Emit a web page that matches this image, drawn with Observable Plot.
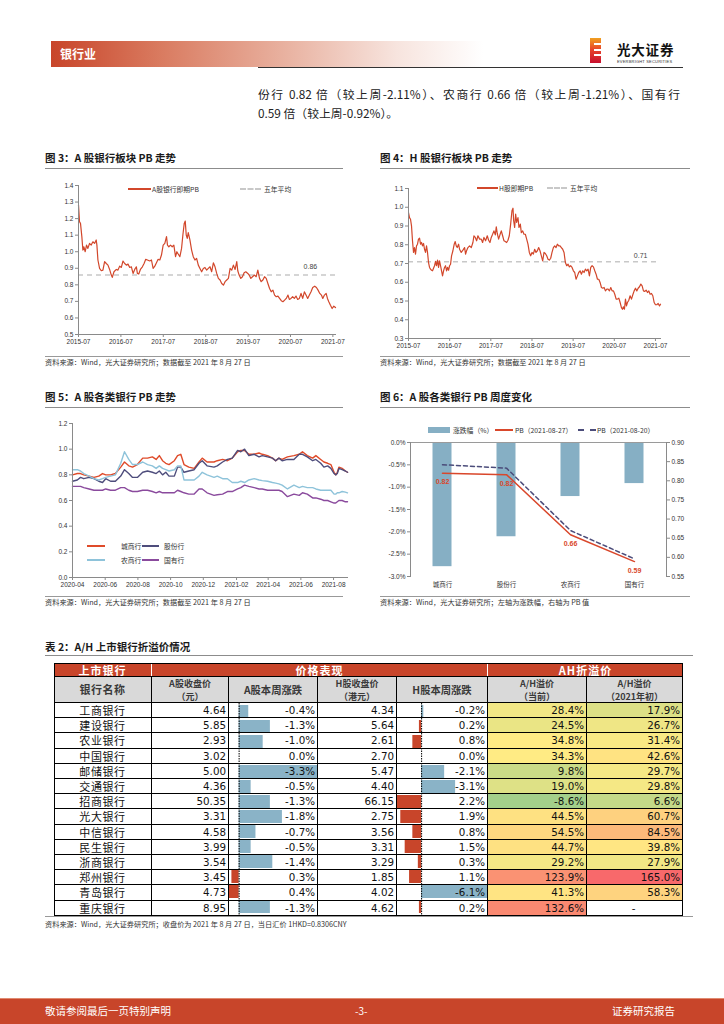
<!DOCTYPE html>
<html><head><meta charset="utf-8">
<script src="https://cdn.jsdelivr.net/npm/d3@7"></script>
<script src="https://cdn.jsdelivr.net/npm/@observablehq/plot@0.6"></script>
<style>
body{margin:0;background:#fff;}
#page{position:relative;width:724px;height:1024px;overflow:hidden;font-family:"Noto Sans CJK SC","Noto Sans",sans-serif;color:#222;background:#fff;}
.a{position:absolute;white-space:nowrap;}
.title{font-size:10.5px;font-weight:bold;color:#1a1a1a;line-height:12px;}
.src{font-size:7.2px;color:#333;line-height:9px;}
.hr{position:absolute;height:0;border-top:1.5px solid #8c8c8c;}
.hr2{position:absolute;height:0;border-top:1px solid #999;}
.leg{position:absolute;font-size:6.8px;color:#333;line-height:8px;white-space:nowrap;}
.c{position:absolute;box-sizing:border-box;border-right:1px solid #000;border-bottom:1px solid #000;display:flex;align-items:center;overflow:hidden;white-space:nowrap;}
.num{justify-content:flex-end;padding-right:2px;font-family:"DejaVu Sans",sans-serif;font-size:10.3px;color:#111;}
.nm{justify-content:center;font-size:11px;letter-spacing:0.6px;color:#111;}
.h1{background:#c8452a;color:#fff;font-weight:bold;font-size:11px;justify-content:center;border-right:1px solid #fff;letter-spacing:1px;}
.h2{background:#d9d9d9;color:#3a3a3a;font-weight:bold;font-size:9px;justify-content:center;overflow:visible;}
.h2 span{display:block;text-align:center;line-height:13px;}
</style></head>
<body><div id="page"></div>
<script>
// ---------------- data ----------------
const paraLine1 = "份行 0.82 倍（较上周-2.11%）、农商行 0.66 倍（较上周-1.21%）、国有行";
const paraLine2 = "0.59 倍（较上周-0.92%）。";

const yearTickLabels = ["2015-07","2016-07","2017-07","2018-07","2019-07","2020-07","2021-07"];
// Fig 3: A-share bank PB, [decimal year, PB]
const aSharePB = [[2015.500,1.282],[2015.524,1.181],[2015.547,1.171],[2015.579,1.091],[2015.603,1.010],[2015.626,1.030],[2015.658,1.000],[2015.689,1.040],[2015.721,1.020],[2015.760,1.050],[2015.800,1.040],[2015.839,1.060],[2015.879,1.050],[2015.918,1.071],[2015.934,1.040],[2015.958,0.950],[2015.997,0.899],[2016.037,0.885],[2016.076,0.889],[2016.116,0.940],[2016.155,0.929],[2016.195,0.919],[2016.234,0.893],[2016.273,0.859],[2016.297,0.845],[2016.337,0.879],[2016.392,0.893],[2016.431,0.889],[2016.471,0.913],[2016.510,0.905],[2016.550,0.944],[2016.589,0.929],[2016.629,0.919],[2016.668,0.925],[2016.708,0.905],[2016.747,0.909],[2016.787,0.869],[2016.826,0.893],[2016.865,0.909],[2016.889,0.869],[2016.921,0.865],[2016.960,0.893],[2017.007,0.909],[2017.047,0.929],[2017.086,0.954],[2017.126,0.950],[2017.181,0.944],[2017.221,0.950],[2017.260,0.899],[2017.300,0.913],[2017.339,0.933],[2017.378,0.954],[2017.418,0.950],[2017.457,0.980],[2017.497,1.040],[2017.536,1.050],[2017.576,1.091],[2017.599,1.040],[2017.631,1.030],[2017.670,1.040],[2017.710,1.030],[2017.749,1.040],[2017.789,0.970],[2017.820,1.000],[2017.852,0.986],[2017.891,0.970],[2017.931,1.020],[2017.962,1.101],[2017.994,1.171],[2018.018,1.185],[2018.041,1.101],[2018.065,1.081],[2018.089,1.115],[2018.128,1.071],[2018.168,1.010],[2018.207,0.970],[2018.247,0.950],[2018.286,0.960],[2018.326,0.919],[2018.365,0.899],[2018.405,0.879],[2018.444,0.899],[2018.483,0.905],[2018.523,0.889],[2018.562,0.899],[2018.602,0.909],[2018.641,0.879],[2018.681,0.933],[2018.720,0.909],[2018.760,0.869],[2018.799,0.839],[2018.839,0.829],[2018.878,0.808],[2018.918,0.798],[2018.957,0.819],[2018.997,0.829],[2019.036,0.839],[2019.076,0.899],[2019.115,0.889],[2019.154,0.919],[2019.194,0.893],[2019.233,0.940],[2019.257,0.885],[2019.289,0.859],[2019.328,0.839],[2019.367,0.849],[2019.407,0.873],[2019.446,0.879],[2019.494,0.869],[2019.525,0.859],[2019.565,0.839],[2019.604,0.849],[2019.652,0.859],[2019.691,0.849],[2019.730,0.889],[2019.770,0.839],[2019.809,0.819],[2019.849,0.829],[2019.888,0.849],[2019.928,0.839],[2019.967,0.808],[2020.007,0.778],[2020.046,0.758],[2020.086,0.768],[2020.125,0.738],[2020.165,0.728],[2020.204,0.732],[2020.243,0.718],[2020.283,0.704],[2020.322,0.698],[2020.362,0.708],[2020.401,0.718],[2020.441,0.738],[2020.473,0.712],[2020.512,0.718],[2020.551,0.728],[2020.591,0.718],[2020.630,0.732],[2020.670,0.712],[2020.709,0.718],[2020.749,0.748],[2020.788,0.718],[2020.828,0.758],[2020.867,0.738],[2020.906,0.718],[2020.946,0.738],[2020.985,0.758],[2021.025,0.784],[2021.072,0.792],[2021.112,0.784],[2021.151,0.768],[2021.191,0.748],[2021.230,0.738],[2021.262,0.718],[2021.301,0.738],[2021.341,0.748],[2021.372,0.718],[2021.404,0.698],[2021.443,0.677],[2021.483,0.657],[2021.522,0.671],[2021.562,0.663]];
const aAvg = 0.86;
const aYTicks = [0.5,0.6,0.7,0.8,0.9,1.0,1.1,1.2,1.3,1.4];

// Fig 4: H-share bank PB
const hSharePB = [[2015.500,0.972],[2015.524,0.945],[2015.549,0.936],[2015.573,0.901],[2015.597,0.821],[2015.622,0.759],[2015.646,0.785],[2015.670,0.750],[2015.695,0.794],[2015.719,0.803],[2015.743,0.830],[2015.768,0.835],[2015.792,0.803],[2015.816,0.812],[2015.841,0.794],[2015.865,0.807],[2015.889,0.776],[2015.914,0.759],[2015.938,0.794],[2015.962,0.759],[2015.987,0.705],[2016.011,0.679],[2016.035,0.670],[2016.060,0.664],[2016.084,0.661],[2016.108,0.675],[2016.133,0.688],[2016.157,0.711],[2016.181,0.688],[2016.206,0.718],[2016.230,0.679],[2016.254,0.714],[2016.279,0.688],[2016.303,0.661],[2016.327,0.634],[2016.352,0.661],[2016.376,0.679],[2016.400,0.688],[2016.425,0.661],[2016.449,0.679],[2016.473,0.664],[2016.498,0.688],[2016.522,0.696],[2016.546,0.741],[2016.579,0.768],[2016.611,0.803],[2016.635,0.817],[2016.660,0.794],[2016.684,0.785],[2016.717,0.803],[2016.741,0.776],[2016.781,0.759],[2016.822,0.771],[2016.863,0.785],[2016.887,0.750],[2016.911,0.768],[2016.944,0.785],[2016.984,0.794],[2017.025,0.785],[2017.065,0.812],[2017.090,0.848],[2017.122,0.839],[2017.155,0.821],[2017.187,0.848],[2017.228,0.830],[2017.268,0.830],[2017.300,0.812],[2017.333,0.839],[2017.373,0.821],[2017.414,0.848],[2017.446,0.824],[2017.479,0.812],[2017.511,0.839],[2017.544,0.856],[2017.576,0.874],[2017.609,0.853],[2017.633,0.896],[2017.657,0.860],[2017.690,0.830],[2017.722,0.853],[2017.755,0.874],[2017.787,0.848],[2017.820,0.821],[2017.852,0.817],[2017.884,0.812],[2017.917,0.824],[2017.949,0.848],[2017.982,0.910],[2018.014,0.981],[2018.039,0.995],[2018.055,0.928],[2018.079,0.892],[2018.103,0.963],[2018.128,0.919],[2018.160,0.945],[2018.184,0.892],[2018.217,0.910],[2018.241,0.865],[2018.274,0.874],[2018.306,0.856],[2018.339,0.856],[2018.371,0.830],[2018.403,0.803],[2018.436,0.759],[2018.468,0.741],[2018.501,0.759],[2018.533,0.750],[2018.566,0.776],[2018.598,0.759],[2018.631,0.768],[2018.663,0.785],[2018.695,0.768],[2018.728,0.741],[2018.760,0.714],[2018.793,0.759],[2018.825,0.753],[2018.858,0.741],[2018.890,0.723],[2018.922,0.718],[2018.955,0.728],[2018.987,0.759],[2019.020,0.785],[2019.052,0.794],[2019.085,0.785],[2019.117,0.803],[2019.150,0.794],[2019.182,0.794],[2019.214,0.785],[2019.247,0.776],[2019.279,0.759],[2019.312,0.705],[2019.344,0.688],[2019.377,0.696],[2019.409,0.682],[2019.442,0.688],[2019.474,0.679],[2019.506,0.661],[2019.539,0.652],[2019.571,0.616],[2019.604,0.634],[2019.636,0.652],[2019.669,0.661],[2019.701,0.643],[2019.734,0.661],[2019.766,0.652],[2019.798,0.670],[2019.831,0.661],[2019.863,0.670],[2019.896,0.634],[2019.928,0.679],[2019.961,0.688],[2019.993,0.682],[2020.026,0.661],[2020.058,0.643],[2020.091,0.616],[2020.123,0.616],[2020.155,0.599],[2020.188,0.572],[2020.220,0.568],[2020.253,0.572],[2020.285,0.554],[2020.318,0.563],[2020.350,0.563],[2020.382,0.554],[2020.415,0.572],[2020.447,0.554],[2020.480,0.554],[2020.512,0.536],[2020.545,0.510],[2020.577,0.510],[2020.610,0.515],[2020.642,0.492],[2020.674,0.465],[2020.699,0.456],[2020.723,0.469],[2020.747,0.456],[2020.772,0.510],[2020.796,0.474],[2020.820,0.492],[2020.853,0.504],[2020.885,0.528],[2020.918,0.510],[2020.950,0.533],[2020.983,0.554],[2021.015,0.568],[2021.047,0.554],[2021.080,0.568],[2021.112,0.576],[2021.145,0.590],[2021.177,0.581],[2021.209,0.554],[2021.242,0.551],[2021.274,0.558],[2021.307,0.545],[2021.339,0.554],[2021.371,0.536],[2021.404,0.540],[2021.436,0.528],[2021.469,0.492],[2021.501,0.480],[2021.534,0.480],[2021.566,0.487],[2021.599,0.474],[2021.623,0.483]];
const hAvg = 0.71;
const hYTicks = [0.3,0.4,0.5,0.6,0.7,0.8,0.9,1.0,1.1];

// Fig 5: PB by bank type
const f5Dates = ["2020-04-01","2020-04-10","2020-04-16","2020-04-22","2020-05-02","2020-05-11","2020-05-20","2020-05-27","2020-06-02","2020-06-11","2020-06-20","2020-06-30","2020-07-07","2020-07-15","2020-07-22","2020-07-31","2020-08-10","2020-08-19","2020-08-28","2020-09-04","2020-09-10","2020-09-16","2020-09-22","2020-09-28","2020-10-08","2020-10-14","2020-10-20","2020-10-26","2020-11-04","2020-11-14","2020-11-23","2020-11-29","2020-12-08","2020-12-21","2020-12-27","2021-01-06","2021-01-15","2021-01-24","2021-02-03","2021-02-09","2021-02-16","2021-02-24","2021-03-06","2021-03-15","2021-03-21","2021-03-31","2021-04-09","2021-04-15","2021-04-21","2021-04-27","2021-05-07","2021-05-19","2021-05-29","2021-06-04","2021-06-13","2021-06-23","2021-06-29","2021-07-08","2021-07-14","2021-07-21","2021-07-27","2021-08-02","2021-08-05","2021-08-08","2021-08-11","2021-08-17","2021-08-23","2021-08-27"];
const cityPB = [0.80,0.81,0.81,0.80,0.79,0.78,0.79,0.81,0.80,0.80,0.81,0.86,0.90,0.87,0.86,0.88,0.93,0.93,0.94,0.92,0.95,0.91,0.89,0.88,0.91,0.95,0.96,0.88,0.86,0.85,0.90,0.93,0.90,0.90,0.91,0.92,0.91,0.93,0.98,0.99,0.99,0.96,0.96,0.97,0.96,0.95,0.93,0.91,0.93,0.92,0.94,0.95,0.96,0.98,0.95,0.93,0.95,0.92,0.90,0.89,0.88,0.82,0.80,0.82,0.86,0.85,0.83,0.82];
const jointPB = [0.75,0.76,0.78,0.77,0.78,0.77,0.75,0.74,0.77,0.75,0.75,0.79,0.84,0.81,0.78,0.78,0.82,0.83,0.82,0.81,0.83,0.80,0.82,0.79,0.79,0.86,0.86,0.82,0.83,0.84,0.89,0.91,0.87,0.86,0.87,0.90,0.92,0.93,0.99,0.98,1.00,0.95,0.96,0.94,0.95,0.94,0.93,0.91,0.93,0.91,0.92,0.92,0.96,0.96,0.94,0.91,0.92,0.89,0.86,0.87,0.85,0.81,0.80,0.81,0.85,0.84,0.83,0.82];
const ruralPB = [0.84,0.84,0.83,0.81,0.79,0.77,0.76,0.77,0.78,0.79,0.80,0.89,0.98,0.92,0.88,0.88,0.90,0.88,0.87,0.85,0.87,0.85,0.84,0.83,0.84,0.87,0.87,0.76,0.76,0.76,0.79,0.82,0.80,0.78,0.79,0.77,0.77,0.74,0.74,0.75,0.74,0.76,0.77,0.76,0.755,0.75,0.74,0.735,0.73,0.72,0.69,0.72,0.70,0.71,0.70,0.70,0.69,0.68,0.68,0.68,0.68,0.65,0.65,0.66,0.66,0.67,0.665,0.66];
const statePB = [0.71,0.71,0.71,0.70,0.69,0.68,0.68,0.68,0.69,0.68,0.68,0.70,0.70,0.68,0.67,0.67,0.68,0.68,0.67,0.66,0.67,0.66,0.66,0.66,0.66,0.68,0.67,0.66,0.65,0.65,0.69,0.69,0.66,0.64,0.645,0.65,0.67,0.67,0.69,0.70,0.72,0.71,0.70,0.69,0.69,0.68,0.68,0.68,0.68,0.67,0.63,0.65,0.64,0.66,0.65,0.62,0.62,0.61,0.60,0.60,0.59,0.58,0.58,0.59,0.60,0.60,0.59,0.59];
const f5Names = ["城商行","股份行","农商行","国有行"];
const f5Colors = ["#df4b2a","#4e4d7c","#8ec3da","#8a4a9d"];
const f5XTicks = ["2020-04","2020-06","2020-08","2020-10","2020-12","2021-02","2021-04","2021-06","2021-08"];
const f5YTicks = [0,0.2,0.4,0.6,0.8,1.0,1.2];

// Fig 6: weekly change
const f6Cats = ["城商行","股份行","农商行","国有行"];
const f6Chg = [-2.78,-2.11,-1.21,-0.92];
const f6PB27 = [0.820,0.816,0.659,0.589];
const f6PB20 = [0.842,0.833,0.670,0.596];
const f6LeftTicks = [0,-0.5,-1.0,-1.5,-2.0,-2.5,-3.0];
const f6RightTicks = [0.90,0.85,0.80,0.75,0.70,0.65,0.60,0.55];

// Table 2
const banks = ["工商银行","建设银行","农业银行","中国银行","邮储银行","交通银行","招商银行","光大银行","中信银行","民生银行","浙商银行","郑州银行","青岛银行","重庆银行"];
const aClose = [4.64,5.85,2.93,3.02,5.00,4.36,50.35,3.31,4.58,3.99,3.54,3.45,4.73,8.95];
const aChg = [-0.4,-1.3,-1.0,0.0,-3.3,-0.5,-1.3,-1.8,-0.7,-0.5,-1.4,0.3,0.4,-1.3];
const hClose = [4.34,5.64,2.61,2.70,5.47,4.40,66.15,2.75,3.56,3.31,3.29,1.85,4.02,4.62];
const hChg = [-0.2,0.2,0.8,0.0,-2.1,-3.1,2.2,1.9,0.8,1.5,0.3,1.1,-6.1,0.2];
const ahNow = [28.4,24.5,34.8,34.3,9.8,19.0,-8.6,44.5,54.5,44.7,29.2,123.9,41.3,132.6];
const ahStart = [17.9,26.7,31.4,42.6,29.7,29.8,6.6,60.7,84.5,39.8,27.9,165.0,58.3,null];

// ---------------- helpers ----------------
const page = document.getElementById("page");
function div(cls, left, top, html, extra) {
  const d = document.createElement("div");
  d.className = cls; d.style.left = left + "px"; d.style.top = top + "px";
  if (html != null) d.innerHTML = html;
  if (extra) Object.assign(d.style, extra);
  page.appendChild(d); return d;
}
function place(el, left, top) {
  el.style.position = "absolute"; el.style.left = left + "px"; el.style.top = top + "px";
  page.appendChild(el);
}
function hr(left, top, width, cls) { div(cls || "hr", left, top, "", {width: width + "px"}); }
function legLine(x, y, w, color, dashed, label, labelX, thick) {
  div("a", x, y - 1, "", {width: w + "px", height: 0, borderTop: (thick || 2) + "px " + (dashed ? "dashed " : "solid ") + color});
  div("leg", labelX, y - 4.5, label);
}
const baseStyle = {fontFamily: "'Liberation Sans', Arial, sans-serif", fontSize: "6.5px", color: "#333", background: "transparent", overflow: "visible"};
const axisStroke = "#8a8a8a";

// ---------------- header ----------------
div("a", 51, 41, "", {width: "432px", height: "26px", background: "linear-gradient(to right, #c8452a 0%, #d97a5f 25%, #e9b3a2 55%, #f7e4de 80%, #ffffff 100%)"});
div("a", 60, 46, "银行业", {color: "#fff", fontWeight: "bold", fontSize: "12px", lineHeight: "16px"});
// logo
div("a", 590, 38, "", {width: "11px", height: "25px", background: "linear-gradient(to bottom, #f0a020, #e8452a 45%, #c8102e)"});
[5, 10.5, 16].forEach(t => div("a", 594, 38 + t, "", {width: "7px", height: "2px", background: "#fff"}));
div("a", 617, 42, "光大证券", {fontSize: "13.5px", fontWeight: "bold", color: "#111", lineHeight: "14px", letterSpacing: "0.8px"});
div("a", 617, 60, "EVERBRIGHT SECURITIES", {fontSize: "4px", color: "#333", lineHeight: "4px", letterSpacing: "0.2px", fontFamily: "'Liberation Sans', sans-serif"});
div("a", 258, 67, "", {width: "425px", height: 0, borderTop: "1.2px solid #333"});

// paragraph
div("a", 258, 86, paraLine1, {width: "422px", fontSize: "11.8px", lineHeight: "16px", textAlign: "justify", textAlignLast: "justify", color: "#222"});
div("a", 258, 105, paraLine2, {fontSize: "11.8px", lineHeight: "16px", color: "#222"});

// ---------------- Fig 3 ----------------
div("a title", 45, 152, "图 3：A 股银行板块 PB 走势");
hr(45, 168, 298);
const yearTick = s => +s.slice(0, 4) + 0.5;
const yearLabel = d => yearTickLabels.find(s => Math.abs(yearTick(s) - d) < 1e-6);
const f3 = Plot.plot({
  width: 298, height: 175, marginLeft: 33, marginRight: 8, marginTop: 10, marginBottom: 16,
  style: baseStyle,
  x: {domain: [aSharePB[0][0], aSharePB[aSharePB.length - 1][0]], label: null},
  y: {domain: [0.5, 1.4], label: null},
  marks: [
    Plot.ruleY([aAvg], {stroke: "#c8c8c8", strokeWidth: 1.5, strokeDasharray: "5,4"}),
    Plot.line(aSharePB, {x: d => d[0], y: d => d[1], stroke: "#d2472b", strokeWidth: 1.2}),
    Plot.text([aAvg], {x: 2020.97, y: d => d, text: d => d.toFixed(2), dy: -8, fontSize: 7, fill: "#444"}),
    Plot.axisY(aYTicks, {tickFormat: d => d.toFixed(1), tickSize: 3, tickPadding: 2, stroke: axisStroke, label: null}),
    Plot.axisX(yearTickLabels.map(yearTick), {tickFormat: yearLabel, tickSize: 3, tickPadding: 2, stroke: axisStroke, label: null}),
    Plot.frame({anchor: "left", stroke: axisStroke}),
    Plot.frame({anchor: "bottom", stroke: axisStroke})
  ]
});
place(f3, 45, 175);
legLine(128, 189, 23, "#d2472b", false, "A股银行即期PB", 152);
legLine(240, 189, 21, "#c8c8c8", true, "五年平均", 264);
hr(45, 356, 298, "hr2");
div("a src", 45, 358, "资料来源：Wind，光大证券研究所；数据截至 2021 年 8 月 27 日");

// ---------------- Fig 4 ----------------
div("a title", 380, 152, "图 4：H 股银行板块 PB 走势");
hr(380, 168, 310);
const f4 = Plot.plot({
  width: 290, height: 176, marginLeft: 28, marginRight: 10, marginTop: 10, marginBottom: 16,
  style: baseStyle,
  x: {domain: [hSharePB[0][0], hSharePB[hSharePB.length - 1][0]], label: null},
  y: {domain: [0.3, 1.1], label: null},
  marks: [
    Plot.ruleY([hAvg], {stroke: "#c8c8c8", strokeWidth: 1.5, strokeDasharray: "5,4"}),
    Plot.line(hSharePB, {x: d => d[0], y: d => d[1], stroke: "#d2472b", strokeWidth: 1.2}),
    Plot.text([hAvg], {x: 2021.14, y: d => d, text: d => d.toFixed(2), dy: -6, fontSize: 7, fill: "#444"}),
    Plot.axisY(hYTicks, {tickFormat: d => d.toFixed(1), tickSize: 3, tickPadding: 2, stroke: axisStroke, label: null}),
    Plot.axisX(yearTickLabels.map(yearTick), {tickFormat: yearLabel, tickSize: 3, tickPadding: 2, stroke: axisStroke, label: null}),
    Plot.frame({anchor: "left", stroke: axisStroke}),
    Plot.frame({anchor: "bottom", stroke: axisStroke})
  ]
});
place(f4, 380, 178);
legLine(477, 188, 21, "#d2472b", false, "H股即期PB", 499);
legLine(547, 188, 20, "#c8c8c8", true, "五年平均", 570);
hr(380, 356, 310, "hr2");
div("a src", 380, 358, "资料来源：Wind，光大证券研究所；数据截至 2021 年 8 月 27 日");

// ---------------- Fig 5 ----------------
div("a title", 45, 391, "图 5：A 股各类银行 PB 走势");
hr(45, 407, 298);
const parseD = d3.utcParse("%Y-%m-%d"), parseM = d3.utcParse("%Y-%m");
const f5Series = [cityPB, jointPB, ruralPB, statePB];
const f5Rows = f5Series.flatMap((s, k) => s.map((v, i) => ({date: parseD(f5Dates[i]), v, name: f5Names[k]})));
const f5 = Plot.plot({
  width: 305, height: 179, marginLeft: 27, marginRight: 3, marginTop: 10, marginBottom: 15,
  style: baseStyle,
  x: {type: "utc", domain: [parseD(f5Dates[0]), parseD(f5Dates[f5Dates.length - 1])], label: null},
  y: {domain: [0, 1.2], label: null},
  color: {domain: f5Names, range: f5Colors},
  marks: [
    Plot.line(f5Rows, {x: "date", y: "v", z: "name", stroke: "name", strokeWidth: 1.4}),
    Plot.axisY(f5YTicks, {tickFormat: d => d.toFixed(1), tickSize: 3, tickPadding: 2, stroke: axisStroke, label: null}),
    Plot.axisX(f5XTicks.map(parseM), {tickFormat: d3.utcFormat("%Y-%m"), tickSize: 3, tickPadding: 2, stroke: axisStroke, label: null}),
    Plot.frame({anchor: "left", stroke: axisStroke}),
    Plot.frame({anchor: "bottom", stroke: axisStroke})
  ]
});
place(f5, 45, 413);
legLine(87, 546, 18, f5Colors[0], false, f5Names[0], 121);
legLine(142, 546, 17, f5Colors[1], false, f5Names[1], 164);
legLine(87, 560, 18, f5Colors[2], false, f5Names[2], 121);
legLine(142, 560, 17, f5Colors[3], false, f5Names[3], 164);
hr(45, 596, 298, "hr2");
div("a src", 45, 598, "资料来源：Wind，光大证券研究所；数据截至 2021 年 8 月 27 日");

// ---------------- Fig 6 ----------------
div("a title", 380, 391, "图 6：A 股各类银行 PB 周度变化");
hr(380, 407, 310);
const f6Rows = f6Cats.map((c, i) => ({c, chg: f6Chg[i], pb27: f6PB27[i], pb20: f6PB20[i]}));
const pbTop = f6RightTicks[0], pbBottom = f6RightTicks[f6RightTicks.length - 1];
const chgBottom = f6LeftTicks[f6LeftTicks.length - 1];
const toL = v => (v - pbTop) / (pbTop - pbBottom) * (-chgBottom);
const fromL = y => pbTop + y * (pbTop - pbBottom) / (-chgBottom);
const f6 = Plot.plot({
  width: 305, height: 160, marginLeft: 32, marginRight: 17, marginTop: 10, marginBottom: 16,
  style: {...baseStyle, fontFamily: "'Liberation Sans', 'Noto Sans CJK SC', sans-serif"},
  x: {type: "band", domain: f6Cats, padding: 0, label: null},
  y: {domain: [chgBottom, 0], label: null},
  marks: [
    Plot.barY(f6Rows, {x: "c", y: "chg", fill: "#86afc4", insetLeft: 22.5, insetRight: 22.5}),
    Plot.ruleY([0], {stroke: "#9a9a9a"}),
    Plot.line(f6Rows, {x: "c", y: d => toL(d.pb20), stroke: "#4b4c7a", strokeWidth: 1.5, strokeDasharray: "4,3"}),
    Plot.line(f6Rows, {x: "c", y: d => toL(d.pb27), stroke: "#d9472b", strokeWidth: 1.5}),
    Plot.text(f6Rows, {x: "c", y: d => toL(d.pb27), text: d => d.pb27.toFixed(2), dy: 9, fill: "#d9472b", fontWeight: "bold", fontSize: 7}),
    Plot.axisY(f6LeftTicks, {tickFormat: d => d.toFixed(1) + "%", tickSize: 3, tickPadding: 2, stroke: axisStroke, label: null}),
    Plot.axisY(f6RightTicks.map(toL), {anchor: "right", tickFormat: d => fromL(d).toFixed(2), tickSize: 3, tickPadding: 2, stroke: axisStroke, label: null}),
    Plot.axisX({tickSize: 0, tickPadding: 6, fontFamily: "'Noto Sans CJK SC', sans-serif", label: null}),
    Plot.frame({anchor: "left", stroke: axisStroke}),
    Plot.frame({anchor: "right", stroke: axisStroke})
  ]
});
place(f6, 378, 432);
div("a", 428, 427, "", {width: "22px", height: "6px", background: "#86afc4"});
div("leg", 453, 425.5, "涨跌幅（%）");
legLine(495, 430, 18, "#d9472b", false, "PB（2021-08-27）", 515);
legLine(578, 430, 18, "#4b4c7a", true, "PB（2021-08-20）", 597);
hr(380, 596, 310, "hr2");
div("a src", 380, 598, "资料来源：Wind，光大证券研究所；左轴为涨跌幅，右轴为 PB 值");

// ---------------- Table 2 ----------------
div("a title", 45, 641, "表 2：A/H 上市银行折溢价情况");
hr(45, 655, 648);
const TX = 54, TY = 663, H1 = 14, H2 = 26, RH = 15.2;
const colX = [0, 98, 175, 264, 343, 434, 533, 629];
const cw = i => colX[i + 1] - colX[i];
function tcell(x, y, w, h, html, cls, extra) {
  return div("c " + cls, TX + x, TY + y, html, Object.assign({width: w + "px", height: h + "px"}, extra || {}));
}
// header row 1
tcell(0, 0, cw(0), H1, "上市银行", "h1");
tcell(colX[1], 0, colX[5] - colX[1], H1, "价格表现", "h1");
tcell(colX[5], 0, colX[7] - colX[5], H1, "AH折溢价", "h1", {borderRight: "none"});
div("a", TX, TY + H1 - 1, "", {width: "629px", height: 0, borderTop: "1px solid #000"});
// header row 2
const head2 = [["银行名称"], ["A股收盘价", "（元）"], ["A股本周涨跌"], ["H股收盘价", "（港元）"], ["H股本周涨跌"], ["A/H溢价", "（当前）"], ["A/H溢价", "（2021年初）"]];
head2.forEach((h, i) => {
  const inner = "<div>" + h.map(s => "<span>" + s + "</span>").join("") + "</div>";
  tcell(colX[i], H1, cw(i), H2, inner, "h2", h.length === 1 ? {fontSize: i === 0 ? "11px" : "10.3px", letterSpacing: i === 0 ? "0.5px" : "0"} : {});
});

// data bars through Plot
const blue = "#8ab3c7", red = "#c8452a";
function barColumn(vals, colIdx) {
  const rows = vals.map((v, i) => ({bank: banks[i], v}));
  const svg = Plot.plot({
    width: cw(colIdx), height: Math.round(banks.length * RH), margin: 0,
    style: {background: "transparent"},
    x: {domain: [d3.max(vals), d3.min(vals)], axis: null},
    y: {type: "band", domain: banks, paddingInner: 0.12, paddingOuter: 0.06, axis: null},
    marks: [
      Plot.barX(rows.filter(d => d.v < 0), {x1: 0, x2: "v", y: "bank", fill: blue}),
      Plot.barX(rows.filter(d => d.v > 0), {x1: 0, x2: "v", y: "bank", fill: red}),
      Plot.ruleX([0], {stroke: "#000", strokeWidth: 1, strokeDasharray: "1.5,1"})
    ]
  });
  place(svg, TX + colX[colIdx], TY + H1 + H2);
}
barColumn(aChg, 2);
barColumn(hChg, 4);

// colour scale for premium columns
const allAH = ahNow.concat(ahStart).filter(v => v != null);
const ahColor = Plot.scale({color: {type: "linear", domain: [d3.min(allAH), d3.median(allAH), d3.max(allAH)], range: ["#a3cf8a", "#ffeb84", "#f8696b"], interpolate: "rgb"}});
const fmt2 = v => v.toFixed(2), fmtP = v => v.toFixed(1) + "%";
banks.forEach((b, i) => {
  const y = H1 + H2 + i * RH;
  tcell(colX[0], y, cw(0), RH, b, "nm");
  tcell(colX[1], y, cw(1), RH, fmt2(aClose[i]), "num", {background: "#fff"});
  tcell(colX[2], y, cw(2), RH, fmtP(aChg[i]), "num");
  tcell(colX[3], y, cw(3), RH, fmt2(hClose[i]), "num", {background: "#fff"});
  tcell(colX[4], y, cw(4), RH, fmtP(hChg[i]), "num");
  tcell(colX[5], y, cw(5), RH, fmtP(ahNow[i]), "num", {background: ahColor.apply(ahNow[i])});
  if (ahStart[i] == null) tcell(colX[6], y, cw(6), RH, "-", "num", {justifyContent: "center", background: "#fff"});
  else tcell(colX[6], y, cw(6), RH, fmtP(ahStart[i]), "num", {background: ahColor.apply(ahStart[i])});
});
const tableH = H1 + H2 + banks.length * RH;
div("a", TX, TY, "", {width: "629px", height: tableH + "px", boxSizing: "border-box", border: "1.5px solid #000", pointerEvents: "none"});
hr(45, TY + tableH + 0.5, 648, "hr2");
div("a src", 45, 920, "资料来源：Wind，光大证券研究所；收盘价为 2021 年 8 月 27 日，当日汇价 1HKD=0.8306CNY");

// ---------------- footer ----------------
div("a", 0, 998, "", {width: "724px", height: "26px", background: "#c8452a", borderTop: "1px solid #e08a70"});
div("a", 45, 1004, "敬请参阅最后一页特别声明", {color: "#fff", fontSize: "10.5px", lineHeight: "14px"});
div("a", 355, 1004, "-3-", {color: "#fff", fontSize: "10px", lineHeight: "14px"});
div("a", 612, 1004, "证券研究报告", {color: "#fff", fontSize: "10.5px", lineHeight: "14px"});
</script>
</body></html>
